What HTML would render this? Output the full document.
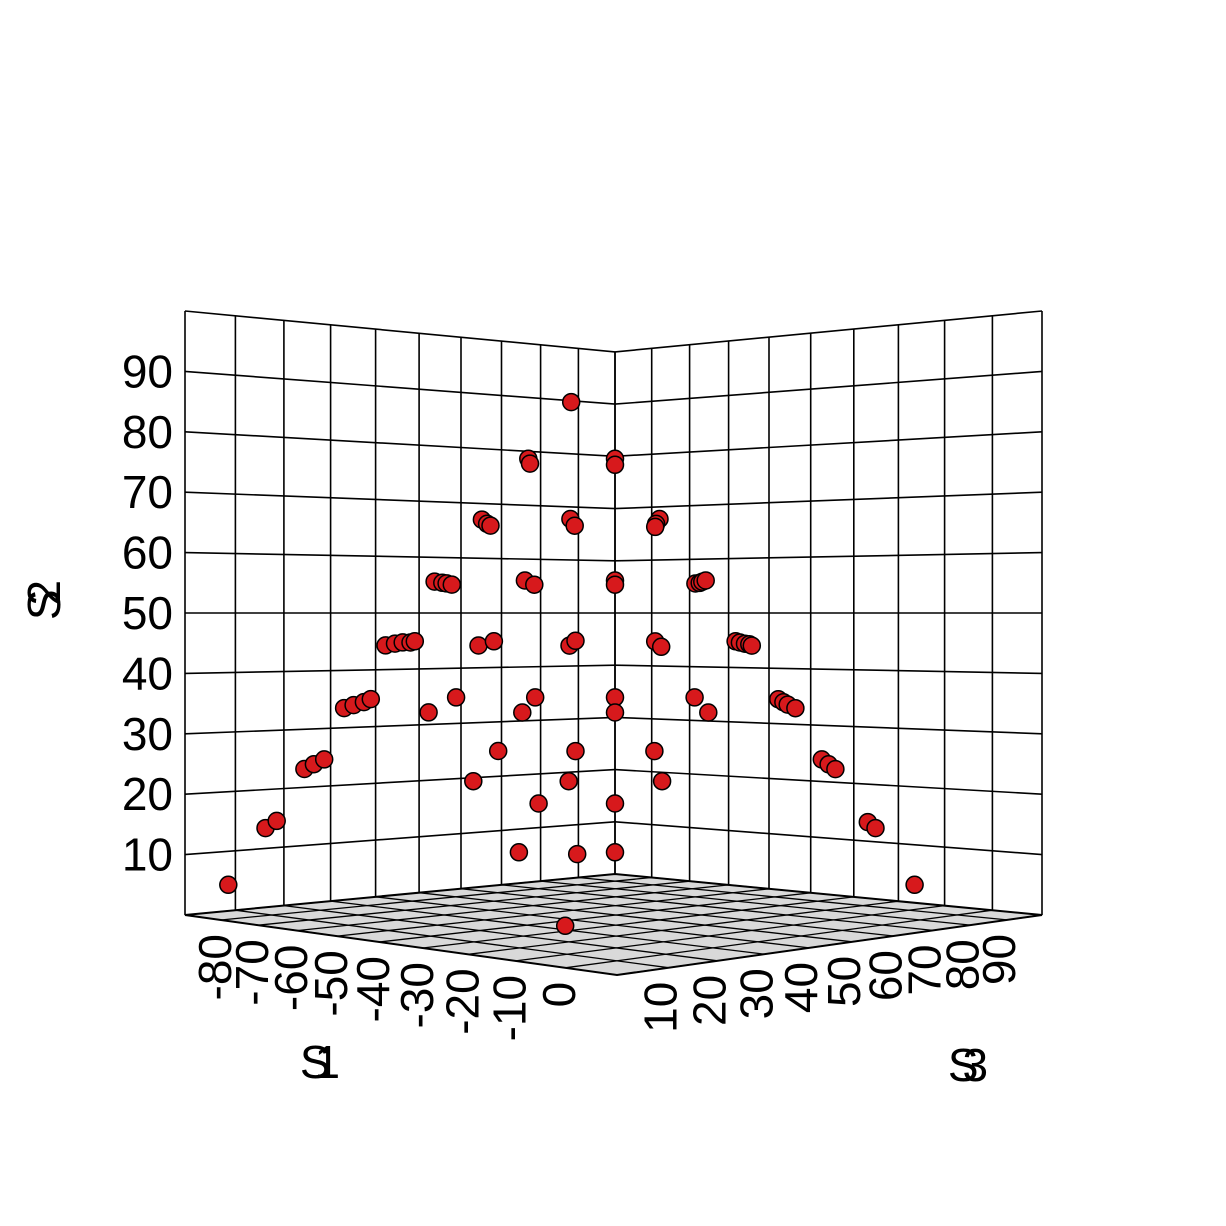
<!DOCTYPE html>
<html><head><meta charset="utf-8"><style>
html,body{margin:0;padding:0;background:#fff;}
svg{display:block;font-family:"Liberation Sans",Arial,sans-serif;}
</style></head><body>
<svg id="chart" width="1226" height="1226" viewBox="0 0 1226 1226" xmlns="http://www.w3.org/2000/svg">
<rect width="1226" height="1226" fill="#fff"/>
<g id="floor"></g>
<g id="walls"></g>
<g id="points"></g>
<g id="labels"></g>
</svg>
<script>
// ---- data ----
const s1Values = [-45.2,-50.2,-50.0,-40.1,-40.1,-55.6,-55.0,-54.6,-45.3,-44.8,-34.9,-35.3,-35.4,
 -61.1,-60.2,-59.7,-59.1,-50.6,-49.5,-40.1,-40.1,-30.7,-30.2,-29.9,-29.5,
 -66.8,-65.7,-64.8,-63.9,-63.4,-56.0,-54.2,-45.4,-44.7,-35.4,-34.7,-26.0,-25.5,-24.9,-24.4,-24.1,
 -71.6,-70.5,-69.3,-68.5,-61.8,-58.6,-50.9,-49.4,-40.1,-40.1,-30.8,-29.2,-21.0,-20.4,-19.9,-19.0,
 -76.2,-75.1,-73.9,-53.7,-44.7,-35.5,-15.9,-15.1,-14.3,-56.6,-45.5,-34.6,-49.0,-40.1,
 -80.7,-79.4,-10.5,-9.6,-51.3,-44.5,-40.1,-85.0,-5.0,-45.9];
const s2Values = [85.1,75.7,74.9,75.7,74.7,65.6,64.9,64.6,65.7,64.6,65.7,64.9,64.4,
 55.3,55.1,55.0,54.8,55.5,54.8,55.5,54.8,55.0,55.1,55.3,55.5,
 44.7,45.0,45.2,45.2,45.4,44.7,45.4,44.7,45.5,45.4,44.5,45.4,45.2,45.0,44.9,44.7,
 34.3,34.8,35.3,35.8,33.6,36.1,33.6,36.1,36.1,33.6,36.1,33.6,35.8,35.3,34.9,34.3,
 24.2,25.0,25.8,27.2,27.2,27.2,25.8,25.0,24.2,22.2,22.2,22.2,18.5,18.5,
 14.4,15.6,15.4,14.4,10.4,10.1,10.4,5.0,5.0,-1.8];
const s3Values = s1Values.map(v => v + 90);
const s2Ticks = [10,20,30,40,50,60,70,80,90];
const s1Ticks = [-80,-70,-60,-50,-40,-30,-20,-10,0];
const s3Ticks = [10,20,30,40,50,60,70,80,90];

// ---- projection (perspective box) ----
const S1MIN=-90,S1MAX=10,S3MIN=0,S3MAX=100,S2MAX=100;
const X0=185,Y0=915,X1=617,Y1=975,X2=1042,Y2=915,X3=615,Y3=874;
const dx1=X1-X2,dx2=X3-X2,dx3=X0-X1+X2-X3,dy1=Y1-Y2,dy2=Y3-Y2,dy3=Y0-Y1+Y2-Y3;
const den=dx1*dy2-dx2*dy1;
const G=(dx3*dy2-dx2*dy3)/den, H=(dx1*dy3-dx3*dy1)/den;
const A=X1-X0+G*X1, B=X3-X0+H*X3, D=Y1-Y0+G*Y1, E=Y3-Y0+H*Y3;
const KS=6.04;
function P(s1,s2,s3){
  const u=(s1-S1MIN)/(S1MAX-S1MIN), v=(s3-S3MIN)/(S3MAX-S3MIN);
  const w=G*u+H*v+1;
  const wk=G*u+(H-(G+H))*v+1; // symmetric depth for height scale
  return [(A*u+B*v+X0)/w, (D*u+E*v+Y0)/w - s2*KS/Math.pow(Math.max(w,wk)*0+w-(G+H)*u*v,0.82)];
}
const NS='http://www.w3.org/2000/svg';
function mk(tag,attrs,parent){const e=document.createElementNS(NS,tag);for(const k in attrs)e.setAttribute(k,attrs[k]);parent.appendChild(e);return e;}
function line(a,b,parent,w,name){
  const l=mk('line',{x1:a[0].toFixed(1),y1:a[1].toFixed(1),x2:b[0].toFixed(1),y2:b[1].toFixed(1),stroke:'#000','stroke-width':w},parent);
  
  
}

// floor
const floor=document.getElementById('floor');
const fc=[P(S1MIN,0,S3MIN),P(S1MAX,0,S3MIN),P(S1MAX,0,S3MAX),P(S1MIN,0,S3MAX)];
const fp=mk('polygon',{points:fc.map(p=>p.join(',')).join(' '),fill:'#d9d9d9',stroke:'#000','stroke-width':2},floor);


for(let a=S1MIN;a<=S1MAX;a+=10) line(P(a,0,S3MIN),P(a,0,S3MAX),floor,1.3,'floor-grid-line');
for(let c=S3MIN;c<=S3MAX;c+=10) line(P(S1MIN,0,c),P(S1MAX,0,c),floor,1.3,'floor-grid-line');

// walls
const walls=document.getElementById('walls');
for(let c=S3MIN;c<=S3MAX;c+=10) line(P(S1MIN,0,c),P(S1MIN,S2MAX,c),walls,1.6,'left-wall-grid-line');
for(let a=S1MIN;a<=S1MAX;a+=10) line(P(a,0,S3MAX),P(a,S2MAX,S3MAX),walls,1.6,'right-wall-grid-line');
for(let h=10;h<=S2MAX;h+=10){
  line(P(S1MIN,h,S3MIN),P(S1MIN,h,S3MAX),walls,1.6,'left-wall-grid-line');
  line(P(S1MIN,h,S3MAX),P(S1MAX,h,S3MAX),walls,1.6,'right-wall-grid-line');
}

// points
const pts=document.getElementById('points');
for(let i=0;i<s1Values.length;i++){
  const p=P(s1Values[i],s2Values[i],s3Values[i]);
  const c=mk('circle',{cx:p[0].toFixed(1),cy:p[1].toFixed(1),r:8.5,fill:'#d7191c',stroke:'#000','stroke-width':1.5},pts);
  
  
}

// labels
const lab=document.getElementById('labels');
function txt(x,y,s,attrs,name){
  const t=mk('text',Object.assign({x:x.toFixed(1),y:y.toFixed(1),'font-size':46,fill:'#000'},attrs),lab);
  t.textContent=s;
  
  
  return t;
}
s2Ticks.forEach(v=>{const p=P(S1MIN,v,S3MIN);txt(p[0]-12,p[1],String(v),{'text-anchor':'end','dominant-baseline':'central'},'s2-tick-label');});
s1Ticks.forEach(v=>{const p=P(v,0,S3MIN);const x=p[0]-6,y=p[1]+14;txt(x,y,String(v),{'text-anchor':'end','dominant-baseline':'central',transform:`rotate(-90 ${x.toFixed(1)} ${y.toFixed(1)})`},'s1-tick-label');});
s3Ticks.forEach(v=>{const p=P(S1MAX,0,v);const x=p[0]-8,y=p[1]+14;txt(x,y,String(v),{'text-anchor':'end','dominant-baseline':'central',transform:`rotate(-90 ${x.toFixed(1)} ${y.toFixed(1)})`},'s3-tick-label');});
txt(312,1062,'S1',{'text-anchor':'middle','dominant-baseline':'central','letter-spacing':'-16'},'s1-axis-title');
txt(960,1065,'S3',{'text-anchor':'middle','dominant-baseline':'central','letter-spacing':'-16'},'s3-axis-title');
txt(44,608,'S2',{'text-anchor':'middle','dominant-baseline':'central','letter-spacing':'-16',transform:'rotate(-90 44 608)'},'s2-axis-title');
</script>
</body></html>
